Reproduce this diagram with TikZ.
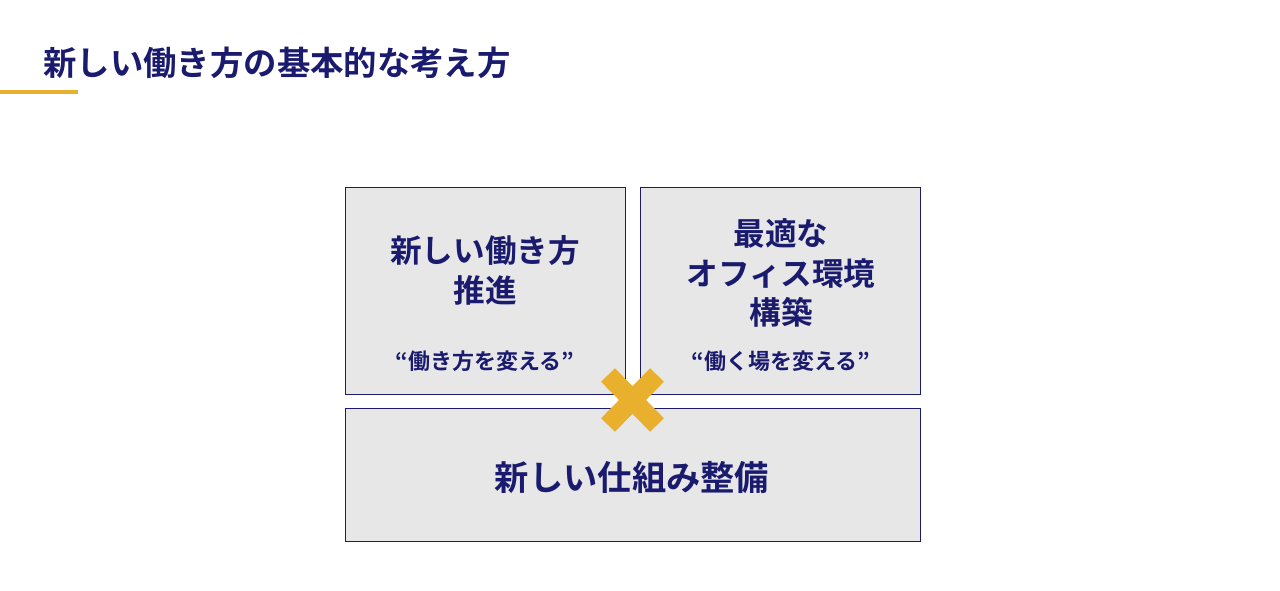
\documentclass[tikz,border=0pt]{standalone}
\usepackage{fontspec}
\setmainfont{Noto Sans CJK JP}[BoldFont={* Bold}]
\definecolor{navy}{HTML}{1A1B6E}
\definecolor{gold}{HTML}{E8B02C}
\definecolor{boxgray}{HTML}{E7E7E7}

\begin{document}
\begin{tikzpicture}[x=0.02cm, y=-0.02cm,
			box/.style={draw=navy, fill=boxgray, line width=0.5pt},
			every node/.style={text=navy, font=\bfseries, inner sep=0pt, align=center}]
			
			\useasboundingbox (0,0) rectangle (1280,591);
			
			% Define the title and its underline
			\node[anchor=west, font=\bfseries\fontsize{19}{23}\selectfont] (T1) at (43, 63) {新しい働き方の基本的な考え方};
			\draw[gold, line width=1.8pt] (0, 92) -- (78, 92);
			
			% Define the boxes
			\draw[box] (345, 187) rectangle (625, 394);
			\draw[box] (640, 187) rectangle (920, 394);
			\draw[box] (345, 408) rectangle (920, 541);
			
			% Define the nodes for the upper boxes
			\node[font=\bfseries\fontsize{18}{22.7}\selectfont] (A1) at (485, 270) {新しい働き方\\推進};
			\node[font=\bfseries\fontsize{12.5}{15}\selectfont] (A2) at (485, 361) {“働き方を変える”};
			\node[font=\bfseries\fontsize{18}{22.7}\selectfont] (B1) at (781, 273) {最適な\\オフィス環境\\構築};
			\node[font=\bfseries\fontsize{12.5}{15}\selectfont] (B2) at (781, 361) {“働く場を変える”};
			
			% Define the node for the lower box
			\node[font=\bfseries\fontsize{19.5}{23}\selectfont] (C1) at (632, 478) {新しい仕組み整備};
			
			% Optional: Draw the cross between the boxes
			\coordinate (X1) at (608, 375);
			\coordinate (X2) at (657, 425);
			\coordinate (X3) at (657, 375);
			\coordinate (X4) at (608, 425);
			\draw[gold, line width=11pt] (X1) -- (X2);
			\draw[gold, line width=11pt] (X3) -- (X4);
		\end{tikzpicture}
\end{document}
